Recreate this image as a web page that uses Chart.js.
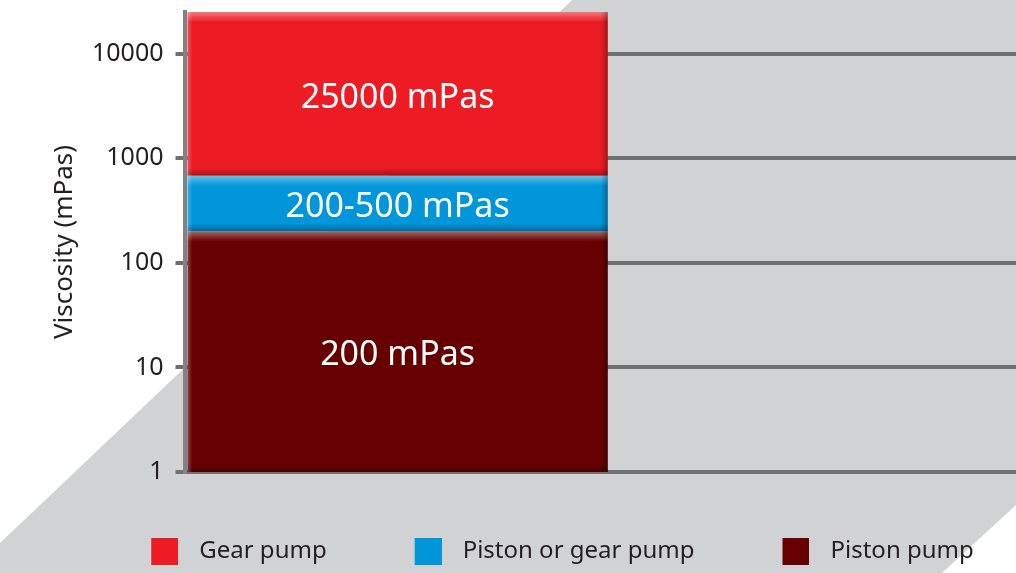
<!DOCTYPE html>
<html>
<head>
<meta charset="utf-8">
<script src="https://cdn.jsdelivr.net/npm/chart.js@4"></script>
<style>
  html, body { margin: 0; padding: 0; background: #fff; overflow: hidden; }
  /* plot runs a little past the right edge of the window, as in the original */
  #wrap { width: 1037px; height: 573px; }
</style>
</head>
<body>
<div id="wrap"><canvas id="viscChart"></canvas></div>
<script>
// categories on x (second slot stays empty so the bar fills the left half)
const categories = ['Range', ''];
const seriesNames = ['Gear pump', 'Piston or gear pump', 'Piston pump'];
// floating bars [from, to] in mPas
const gearPump = [[680, 25000]];
const pistonOrGearPump = [[200, 680]];
const pistonPump = [[1, 200]];
const barLabels = ['25000 mPas', '200-500 mPas', '200 mPas'];
const tickValues = [1, 10, 100, 1000, 10000];
const seriesColors = ['#ed1c24', '#0096d9', '#660000'];

const FONT = 'Noto Sans';

// legend square sitting at the right end of a wider transparent image
function swatch(color) {
  const cv = document.createElement('canvas');
  cv.width = 46;
  cv.height = 27;
  const g = cv.getContext('2d');
  g.fillStyle = color;
  g.fillRect(19, 0, 27, 27);
  return cv;
}
const swatches = seriesColors.map(swatch);

// grey diagonal band behind the chart
const bandBg = {
  id: 'bandBg',
  beforeDraw(chart) {
    const c = chart.ctx, w = chart.width, h = chart.height;
    c.save();
    c.fillStyle = '#ffffff';
    c.fillRect(0, 0, w, h);
    c.fillStyle = '#d1d2d4';
    c.beginPath();
    c.moveTo(0, 543);
    c.lineTo(572, 0);
    c.lineTo(1100, 0);
    c.lineTo(1100, 428);
    c.lineTo(942, h);
    c.lineTo(0, h);
    c.closePath();
    c.fill();
    c.restore();
  }
};

// bevel look + centred white labels on each bar
const barDeco = {
  id: 'barDeco',
  afterDatasetsDraw(chart) {
    const c = chart.ctx;
    chart.data.datasets.forEach((ds, i) => {
      const meta = chart.getDatasetMeta(i);
      meta.data.forEach(el => {
        const p = el.getProps(['x', 'y', 'base', 'width'], true);
        const left = p.x - p.width / 2, right = p.x + p.width / 2;
        const top = Math.min(p.y, p.base), bottom = Math.max(p.y, p.base);
        c.save();
        let g = c.createLinearGradient(0, top, 0, top + 10);
        g.addColorStop(0, 'rgba(255,255,255,0.4)');
        g.addColorStop(1, 'rgba(255,255,255,0)');
        c.fillStyle = g;
        c.fillRect(left, top, right - left, 10);
        g = c.createLinearGradient(0, bottom - 8, 0, bottom);
        g.addColorStop(0, 'rgba(0,0,0,0)');
        g.addColorStop(1, 'rgba(0,0,0,0.3)');
        c.fillStyle = g;
        c.fillRect(left, bottom - 8, right - left, 8);
        g = c.createLinearGradient(right - 7, 0, right, 0);
        g.addColorStop(0, 'rgba(0,0,0,0)');
        g.addColorStop(1, 'rgba(0,0,0,0.3)');
        c.fillStyle = g;
        c.fillRect(right - 7, top, 7, bottom - top);
        g = c.createLinearGradient(left, 0, left + 5, 0);
        g.addColorStop(0, 'rgba(255,255,255,0.25)');
        g.addColorStop(1, 'rgba(255,255,255,0)');
        c.fillStyle = g;
        c.fillRect(left, top, 5, bottom - top);

        c.fillStyle = '#ffffff';
        c.font = '34px "' + FONT + '"';
        c.textAlign = 'center';
        c.textBaseline = 'middle';
        c.fillText(barLabels[i], p.x, (top + bottom) / 2 + 4);
        c.restore();
      });
    });
  }
};

const ctx = document.getElementById('viscChart').getContext('2d');
new Chart(ctx, {
  type: 'bar',
  data: {
    labels: categories,
    datasets: [
      { label: seriesNames[0], data: gearPump, backgroundColor: seriesColors[0] },
      { label: seriesNames[1], data: pistonOrGearPump, backgroundColor: seriesColors[1] },
      { label: seriesNames[2], data: pistonPump, backgroundColor: seriesColors[2] }
    ]
  },
  options: {
    responsive: true,
    maintainAspectRatio: false,
    animation: false,
    barPercentage: 0.986,
    categoryPercentage: 1,
    layout: { padding: { top: 12, right: 0, left: 60, bottom: 0 } },
    plugins: {
      tooltip: { enabled: false },
      legend: {
        position: 'bottom',
        labels: {
          usePointStyle: true,
          pointStyleWidth: 64,
          boxHeight: 27,
          padding: 60,
          color: '#231f20',
          font: { family: FONT, size: 24 },
          generateLabels: chart => chart.data.datasets.map((ds, i) => ({
            text: ds.label,
            pointStyle: swatches[i],
            fillStyle: ds.backgroundColor,
            strokeStyle: 'rgba(0,0,0,0)',
            lineWidth: 0,
            hidden: false,
            datasetIndex: i,
            fontColor: '#231f20'
          }))
        }
      }
    },
    scales: {
      x: {
        stacked: true,
        grid: { display: false },
        border: { display: false },
        ticks: { display: false },
        afterFit: s => { s.height = 7; s.paddingLeft = 0; s.paddingRight = 0; }
      },
      y: {
        type: 'logarithmic',
        min: 1,
        max: 25000,
        afterBuildTicks: s => { s.ticks = tickValues.map(v => ({ value: v })); },
        afterFit: s => { s.width = 124.5; s.paddingTop = 0; s.paddingBottom = 0; },
        ticks: {
          color: '#231f20',
          padding: 12,
          font: { family: FONT, size: 25 },
          callback: v => String(v)
        },
        grid: { color: '#6f7072', lineWidth: 4, tickLength: 9 },
        border: { color: '#808285', width: 4 },
        title: {
          display: true,
          text: 'Viscosity (mPas)',
          color: '#231f20',
          padding: { top: -11, bottom: 0 },
          font: { family: FONT, size: 26 }
        }
      }
    }
  },
  plugins: [bandBg, barDeco]
});
</script>
</body>
</html>
